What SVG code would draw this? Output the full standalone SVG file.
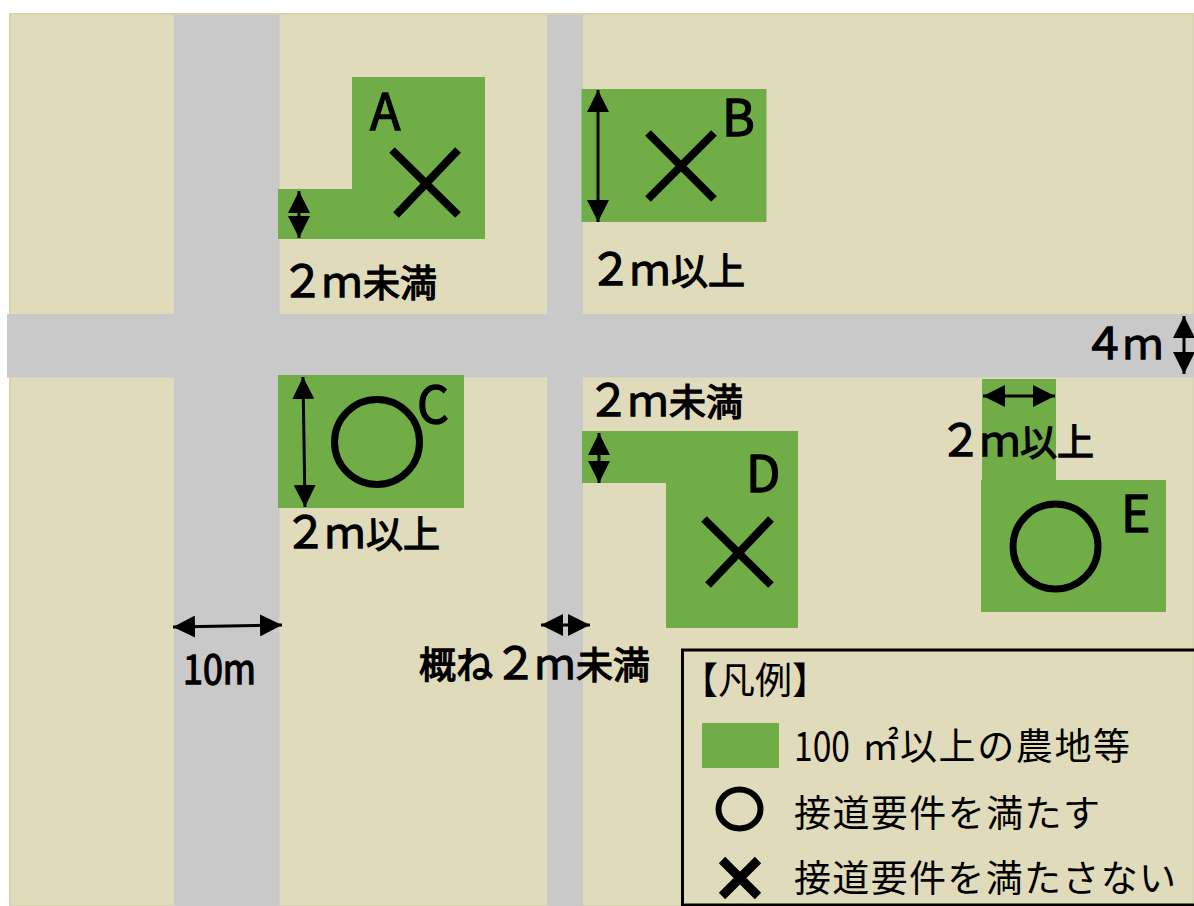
<svg xmlns="http://www.w3.org/2000/svg" width="1194" height="906" viewBox="0 0 1194 906">
<defs>
<marker id="ah" viewBox="0 0 22 22" refX="22" refY="11" markerWidth="22" markerHeight="22" markerUnits="userSpaceOnUse" orient="auto-start-reverse"><path d="M0 0L22 11L0 22Z" fill="#000"/></marker>
</defs>
<style>
text{font-family:"Noto Sans CJK JP","Noto Sans",sans-serif;fill:#000;font-weight:400}
.b{font-size:37px;stroke:#000;stroke-width:1.3px}
.c{font-size:50px;stroke:#000;stroke-width:1.300px}
.d{font-size:43px}
.m{font-size:40px}
.l{font-size:37px}
.road{fill:#c9c9c9}
.farm{fill:#70ad47}
.x{fill:none;stroke:#000;stroke-width:8}
.o{fill:none;stroke:#000;stroke-width:7}
.dim{fill:none;stroke:#000;stroke-width:3;marker-start:url(#ah);marker-end:url(#ah)}
</style>
<rect x="0" y="0" width="1194" height="906" fill="#fff"/>
<rect x="10" y="14" width="1184" height="892" fill="#e0dbba" stroke="#d9d2ae" stroke-width="2"/>
<g id="roads">
<rect class="road" x="174" y="15" width="105.500" height="891"/>
<rect class="road" x="547" y="15" width="36" height="891"/>
<rect class="road" x="7" y="314" width="1187" height="63.500"/>
</g>
<g id="node-A">
<path class="farm" d="M352 77H485V239H278V189H352Z"/>
<text class="c" x="370" y="130">A</text>
<path class="x" d="M392 150L458 215M396 215L458 150"/>
<text class="b" y="297"><tspan class="d" x="281">２</tspan><tspan class="m" x="322">ｍ</tspan><tspan x="363">未満</tspan></text>
</g>
<g id="node-B">
<rect class="farm" x="581.500" y="89" width="185" height="133"/>
<text class="c" x="722" y="136">B</text>
<path class="x" d="M648 133L714 199M648 199L714 133"/>
<text class="b" y="285"><tspan class="d" x="589">２</tspan><tspan class="m" x="630">ｍ</tspan><tspan x="671">以上</tspan></text>
</g>
<g id="node-C">
<rect class="farm" x="278" y="375" width="186" height="133"/>
<text class="c" x="417" y="423">C</text>
<circle class="o" cx="377" cy="442" r="42.500"/>
<text class="b" y="548"><tspan class="d" x="284">２</tspan><tspan class="m" x="325">ｍ</tspan><tspan x="366">以上</tspan></text>
</g>
<g id="node-D">
<path class="farm" d="M582 431H798V628H666V483H582Z"/>
<text class="c" x="746" y="492">D</text>
<path class="x" d="M704 519L771 585M708 585L771 519"/>
<text class="b" y="416"><tspan class="d" x="587">２</tspan><tspan class="m" x="628">ｍ</tspan><tspan x="669">未満</tspan></text>
</g>
<g id="node-E">
<path class="farm" d="M982 379H1056V480H1166V612H981V480H982Z"/>
<text class="c" x="1121" y="532">E</text>
<circle class="o" cx="1055.500" cy="546.500" r="42.500"/>
<text class="b" y="456"><tspan class="d" x="939">２</tspan><tspan class="m" x="980">ｍ</tspan><tspan x="1020">以上</tspan></text>
</g>
<g id="labels">
<text class="b" y="359"><tspan class="d" x="1083">４</tspan><tspan class="m" x="1123">ｍ</tspan></text>
<text class="m" x="183" y="684" stroke="#000" stroke-width="1.3" textLength="73" lengthAdjust="spacingAndGlyphs">10m</text>
<text class="b" y="679"><tspan x="419">概ね</tspan><tspan class="d" x="494">２</tspan><tspan class="m" x="535">ｍ</tspan><tspan x="576">未満</tspan></text>
</g>
<g id="connectors">
<path class="dim" d="M299 191V238"/>
<path class="dim" d="M598 90V222"/>
<path class="dim" d="M303 377L305 507"/>
<path class="dim" d="M599 433V483"/>
<path class="dim" d="M983 396H1055"/>
<path class="dim" d="M1184 316V374"/>
<path class="dim" d="M173 627L282 625"/>
<path class="dim" d="M541 625H590"/>
</g>
<g id="legend">
<rect x="682.500" y="650" width="530" height="255" fill="none" stroke="#000" stroke-width="3"/>
<text class="l" x="681" y="694">【凡例】</text>
<rect class="farm" x="702" y="723" width="77" height="45"/>
<text class="m" x="794" y="761" textLength="56" lengthAdjust="spacingAndGlyphs">100</text>
<text class="l" x="862" y="760">㎡</text>
<text class="l" x="900" y="760" textLength="230">以上の農地等</text>
<ellipse cx="739.500" cy="809" rx="21" ry="19.500" fill="none" stroke="#000" stroke-width="6"/>
<text class="l" x="794" y="827" textLength="306">接道要件を満たす</text>
<path d="M722 860L758 896M758 860L722 896" fill="none" stroke="#000" stroke-width="9"/>
<text class="l" x="794" y="892" textLength="382">接道要件を満たさない</text>
</g>
</svg>
